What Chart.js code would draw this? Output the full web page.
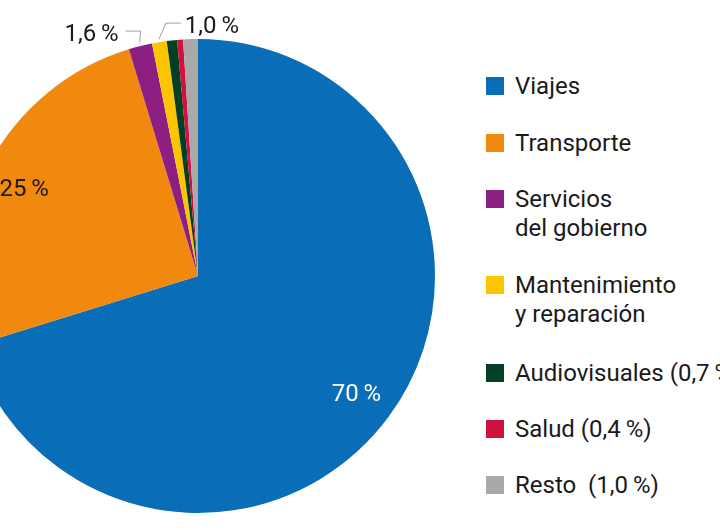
<!DOCTYPE html>
<html>
<head>
<meta charset="utf-8">
<script src="https://cdn.jsdelivr.net/npm/chart.js@4"></script>
<style>
    html, body { margin: 0; padding: 0; background: #fff; overflow: hidden; }
    #wrap { position: relative; width: 720px; height: 530px; overflow: hidden; font-family: Roboto, sans-serif; }
    #pie-box { position: absolute; left: -60px; top: 0; width: 516px; height: 530px; }
    #legend { position: absolute; left: 486px; top: 72px; }
    .item { display: flex; align-items: flex-start; margin-bottom: 28px; }
    .item:nth-child(3) { margin-bottom: 29px; }
    .item:nth-child(4) { margin-bottom: 31px; }
    .item:nth-child(5) { margin-bottom: 27px; }
    .box { width: 18px; height: 18px; margin-top: 5px; margin-right: 11px; flex: none; }
    .txt { font-size: 24px; line-height: 28.5px; color: #1a1a1a; white-space: pre; }
</style>
</head>
<body>
<div id="wrap">
    <div id="pie-box"><canvas id="pie-chart"></canvas></div>
    <div id="legend"></div>
</div>
<script>
// Datos
const categories = ['Viajes', 'Transporte', 'Servicios del gobierno', 'Mantenimiento y reparación', 'Audiovisuales', 'Salud', 'Resto'];
const legendTexts = ['Viajes', 'Transporte', 'Servicios\ndel gobierno', 'Mantenimiento\ny reparación', 'Audiovisuales (0,7\u2009%)', 'Salud (0,4\u2009%)', 'Resto  (1,0\u2009%)'];
const shares = [70, 25, 1.6, 1.0, 0.7, 0.4, 1.0];
const colors = ['#0a6db7', '#f2890f', '#8d1e82', '#fdc400', '#023f24', '#d0103f', '#a9a9a9'];

// etiquetas sobre el grafico: indice de la porcion
const insideLabels = [0, 1];
const outsideLabels = [2, 3];

function formatShare(v) {
    const s = v >= 10 ? String(v) : v.toFixed(1).replace('.', ',');
    return s + '\u2009%';
}

// leyenda en html
function buildLegend() {
    const legend = document.getElementById('legend');
    legendTexts.forEach((t, i) => {
        const item = document.createElement('div');
        item.className = 'item';
        const box = document.createElement('div');
        box.className = 'box';
        box.style.background = colors[i];
        const txt = document.createElement('div');
        txt.className = 'txt';
        txt.textContent = t;
        item.appendChild(box);
        item.appendChild(txt);
        legend.appendChild(item);
    });
}

// plugin para dibujar los porcentajes
const sliceLabels = {
    id: 'sliceLabels',
    afterDatasetsDraw(chart) {
        const ctx = chart.ctx;
        const meta = chart.getDatasetMeta(0);
        const capHalf = 8.5; // mitad de la altura de las cifras
        ctx.save();
        ctx.font = '24px Roboto, sans-serif';
        ctx.textBaseline = 'alphabetic';

        insideLabels.forEach(i => {
            const arc = meta.data[i];
            const mid = (arc.startAngle + arc.endAngle) / 2;
            const r = arc.outerRadius * 0.83;
            const dy = i === 0 ? 0 : 4;
            ctx.fillStyle = i === 0 ? '#ffffff' : '#1a1a1a';
            ctx.textAlign = 'center';
            ctx.fillText(formatShare(shares[i]), arc.x + Math.cos(mid) * r, arc.y + Math.sin(mid) * r + capHalf + dy);
        });

        outsideLabels.forEach((i, k) => {
            const arc = meta.data[i];
            const mid = (arc.startAngle + arc.endAngle) / 2;
            const r = arc.outerRadius + 3;
            const sx = arc.x + Math.cos(mid) * r;
            const sy = arc.y + Math.sin(mid) * r;
            const left = k === 0;
            const ex = left ? sx + 1 : sx + 7;
            const ey = left ? sy - 12 : sy - 16;
            const hx = left ? ex - 15 : ex + 15;
            ctx.strokeStyle = '#b3b3b3';
            ctx.lineWidth = 1.2;
            ctx.beginPath();
            ctx.moveTo(sx, sy);
            ctx.lineTo(ex, ey);
            ctx.lineTo(hx, ey);
            ctx.stroke();
            ctx.fillStyle = '#1a1a1a';
            ctx.textAlign = left ? 'right' : 'left';
            ctx.fillText(formatShare(shares[i]), left ? hx - 7 : hx + 4, ey + 1 + capHalf);
        });
        ctx.restore();
    }
};

function initializeChart() {
    new Chart(document.getElementById('pie-chart'), {
        type: 'pie',
        data: {
            labels: categories,
            datasets: [{
                data: shares,
                backgroundColor: colors,
                borderWidth: 0
            }]
        },
        options: {
            responsive: true,
            maintainAspectRatio: false,
            animation: false,
            layout: {
                padding: { top: 39, bottom: 17, left: 21, right: 21 }
            },
            plugins: {
                legend: { display: false },
                tooltip: { enabled: false }
            }
        },
        plugins: [sliceLabels]
    });
}

window.addEventListener('load', () => {
    buildLegend();
    initializeChart();
});
</script>
</body>
</html>
